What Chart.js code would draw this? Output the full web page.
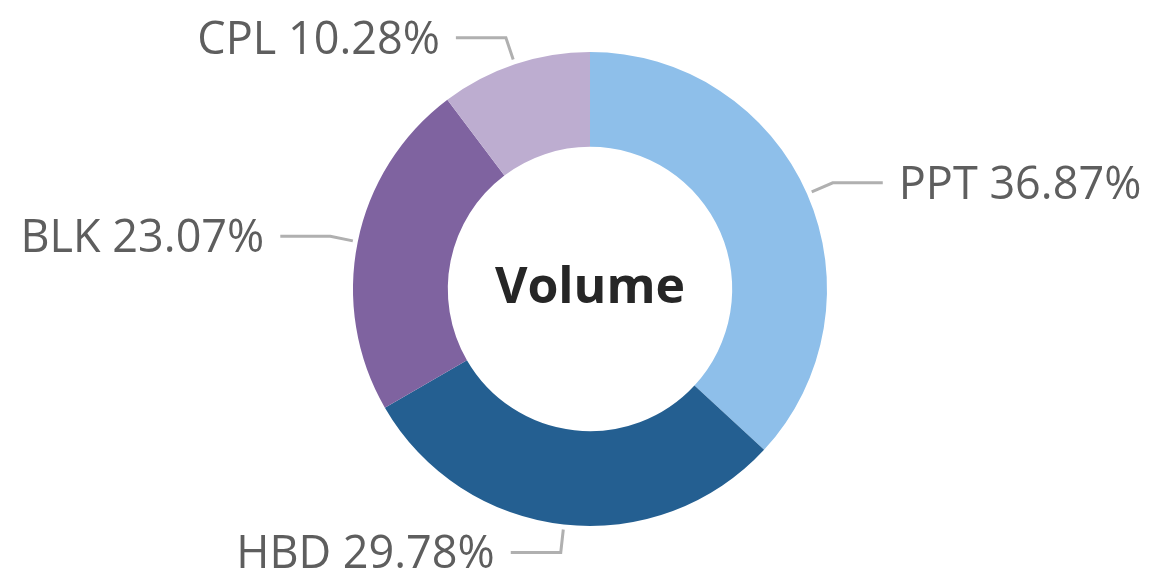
<!DOCTYPE html>
<html>
<head>
<meta charset="utf-8">
<script src="https://cdn.jsdelivr.net/npm/chart.js@4/dist/chart.umd.min.js"></script>
<style>
  html, body { margin: 0; padding: 0; background: #ffffff; }
  #wrap { width: 1153px; height: 580px; position: relative; }
</style>
</head>
<body>
<div id="wrap"><canvas id="volumeChart"></canvas></div>
<script>
const categories = ['PPT', 'HBD', 'BLK', 'CPL'];
const shares = [36.87, 29.78, 23.07, 10.28];
const centerTitle = 'Volume';

const sliceColors = ['#8EBFEA', '#245F91', '#7F63A0', '#BDADD0'];

// labels outside the ring with a short bent leader line
const outsideLabels = {
  id: 'outsideLabels',
  afterDatasetsDraw(chart) {
    const { ctx } = chart;
    const arcs = chart.getDatasetMeta(0).data;
    ctx.save();
    arcs.forEach((arc, i) => {
      const { x, y, startAngle, endAngle, outerRadius } = arc.getProps(['x', 'y', 'startAngle', 'endAngle', 'outerRadius'], true);
      const mid = (startAngle + endAngle) / 2;
      const cos = Math.cos(mid), sin = Math.sin(mid);
      const x0 = x + cos * (outerRadius + 5), y0 = y + sin * (outerRadius + 5);
      const x1 = x + cos * (outerRadius + 28), y1 = y + sin * (outerRadius + 28);
      const right = cos >= 0;
      const x2 = x1 + (right ? 50 : -50);

      ctx.strokeStyle = '#b0b0b0';
      ctx.lineWidth = 3;
      ctx.lineJoin = 'miter';
      ctx.beginPath();
      ctx.moveTo(x0, y0);
      ctx.lineTo(x1, y1);
      ctx.lineTo(x2, y1);
      ctx.stroke();

      ctx.fillStyle = '#5e5e5e';
      ctx.font = '45px "Open Sans", sans-serif';
      ctx.textAlign = right ? 'left' : 'right';
      ctx.textBaseline = 'middle';
      ctx.fillText(categories[i] + ' ' + shares[i].toFixed(2) + '%', x2 + (right ? 16 : -16), y1 + 3);
    });

    const c = arcs[0];
    ctx.fillStyle = '#262626';
    ctx.font = 'bold 50px "Open Sans", sans-serif';
    ctx.textAlign = 'center';
    ctx.textBaseline = 'middle';
    ctx.fillText(centerTitle, c.x, c.y);
    ctx.restore();
  }
};

new Chart(document.getElementById('volumeChart'), {
  type: 'doughnut',
  data: {
    labels: categories,
    datasets: [{
      data: shares,
      backgroundColor: sliceColors,
      borderWidth: 0
    }]
  },
  options: {
    responsive: true,
    maintainAspectRatio: false,
    animation: false,
    cutout: '60%',
    layout: { padding: { left: 353, right: 326, top: 52, bottom: 54 } },
    plugins: {
      legend: { display: false },
      tooltip: { enabled: false }
    }
  },
  plugins: [outsideLabels]
});
</script>
</body>
</html>
